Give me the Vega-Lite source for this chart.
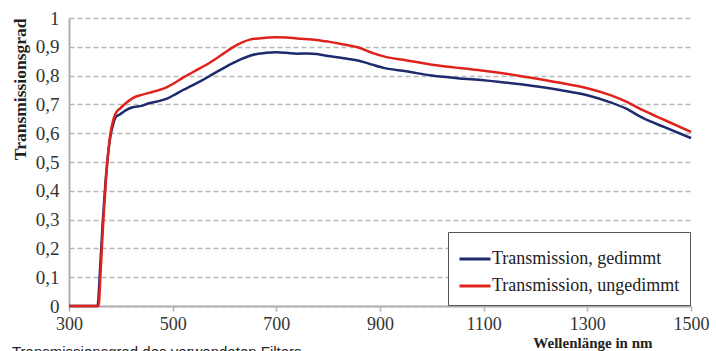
{
  "$schema": "https://vega.github.io/schema/vega-lite/v6.json",
  "autosize": "none",
  "width": 622,
  "height": 288,
  "padding": {"left": 69, "top": 18, "right": 25, "bottom": 45},
  "background": "white",
  "title": {
    "text": "Transmissionsgrad des verwendeten Filters",
    "orient": "bottom",
    "anchor": "start",
    "frame": "group",
    "dx": -57,
    "offset": -5,
    "font": "Liberation Sans",
    "fontSize": 15,
    "fontWeight": "normal",
    "color": "#222"
  },
  "config": {
    "view": {"stroke": null},
    "axis": {
      "labelFont": "Liberation Serif",
      "titleFont": "Liberation Serif",
      "labelColor": "#333",
      "titleColor": "#222",
      "domainColor": "#b0b0b0",
      "domainWidth": 2,
      "tickColor": "#b0b0b0"
    }
  },
  "data": {
    "values": [
      {"wl": 300, "t": 0, "s": "Transmission, gedimmt"},
      {"wl": 355, "t": 0, "s": "Transmission, gedimmt"},
      {"wl": 360, "t": 0.13, "s": "Transmission, gedimmt"},
      {"wl": 365, "t": 0.29, "s": "Transmission, gedimmt"},
      {"wl": 370, "t": 0.42, "s": "Transmission, gedimmt"},
      {"wl": 375, "t": 0.52, "s": "Transmission, gedimmt"},
      {"wl": 380, "t": 0.59, "s": "Transmission, gedimmt"},
      {"wl": 385, "t": 0.63, "s": "Transmission, gedimmt"},
      {"wl": 390, "t": 0.655, "s": "Transmission, gedimmt"},
      {"wl": 398, "t": 0.665, "s": "Transmission, gedimmt"},
      {"wl": 410, "t": 0.68, "s": "Transmission, gedimmt"},
      {"wl": 423, "t": 0.69, "s": "Transmission, gedimmt"},
      {"wl": 440, "t": 0.695, "s": "Transmission, gedimmt"},
      {"wl": 456, "t": 0.705, "s": "Transmission, gedimmt"},
      {"wl": 470, "t": 0.71, "s": "Transmission, gedimmt"},
      {"wl": 489, "t": 0.72, "s": "Transmission, gedimmt"},
      {"wl": 505, "t": 0.735, "s": "Transmission, gedimmt"},
      {"wl": 520, "t": 0.75, "s": "Transmission, gedimmt"},
      {"wl": 537, "t": 0.765, "s": "Transmission, gedimmt"},
      {"wl": 553, "t": 0.78, "s": "Transmission, gedimmt"},
      {"wl": 570, "t": 0.797, "s": "Transmission, gedimmt"},
      {"wl": 585, "t": 0.813, "s": "Transmission, gedimmt"},
      {"wl": 600, "t": 0.828, "s": "Transmission, gedimmt"},
      {"wl": 616, "t": 0.843, "s": "Transmission, gedimmt"},
      {"wl": 632, "t": 0.857, "s": "Transmission, gedimmt"},
      {"wl": 649, "t": 0.869, "s": "Transmission, gedimmt"},
      {"wl": 665, "t": 0.876, "s": "Transmission, gedimmt"},
      {"wl": 680, "t": 0.879, "s": "Transmission, gedimmt"},
      {"wl": 700, "t": 0.881, "s": "Transmission, gedimmt"},
      {"wl": 720, "t": 0.879, "s": "Transmission, gedimmt"},
      {"wl": 740, "t": 0.876, "s": "Transmission, gedimmt"},
      {"wl": 760, "t": 0.877, "s": "Transmission, gedimmt"},
      {"wl": 778, "t": 0.875, "s": "Transmission, gedimmt"},
      {"wl": 800, "t": 0.868, "s": "Transmission, gedimmt"},
      {"wl": 830, "t": 0.86, "s": "Transmission, gedimmt"},
      {"wl": 861, "t": 0.851, "s": "Transmission, gedimmt"},
      {"wl": 885, "t": 0.838, "s": "Transmission, gedimmt"},
      {"wl": 909, "t": 0.826, "s": "Transmission, gedimmt"},
      {"wl": 950, "t": 0.815, "s": "Transmission, gedimmt"},
      {"wl": 1000, "t": 0.8, "s": "Transmission, gedimmt"},
      {"wl": 1054, "t": 0.79, "s": "Transmission, gedimmt"},
      {"wl": 1100, "t": 0.784, "s": "Transmission, gedimmt"},
      {"wl": 1150, "t": 0.774, "s": "Transmission, gedimmt"},
      {"wl": 1200, "t": 0.763, "s": "Transmission, gedimmt"},
      {"wl": 1247, "t": 0.75, "s": "Transmission, gedimmt"},
      {"wl": 1300, "t": 0.732, "s": "Transmission, gedimmt"},
      {"wl": 1343, "t": 0.708, "s": "Transmission, gedimmt"},
      {"wl": 1375, "t": 0.685, "s": "Transmission, gedimmt"},
      {"wl": 1407, "t": 0.653, "s": "Transmission, gedimmt"},
      {"wl": 1450, "t": 0.62, "s": "Transmission, gedimmt"},
      {"wl": 1500, "t": 0.583, "s": "Transmission, gedimmt"},
      {"wl": 300, "t": 0, "s": "Transmission, ungedimmt"},
      {"wl": 357, "t": 0, "s": "Transmission, ungedimmt"},
      {"wl": 361, "t": 0.12, "s": "Transmission, ungedimmt"},
      {"wl": 366, "t": 0.29, "s": "Transmission, ungedimmt"},
      {"wl": 371, "t": 0.43, "s": "Transmission, ungedimmt"},
      {"wl": 376, "t": 0.54, "s": "Transmission, ungedimmt"},
      {"wl": 381, "t": 0.61, "s": "Transmission, ungedimmt"},
      {"wl": 386, "t": 0.65, "s": "Transmission, ungedimmt"},
      {"wl": 392, "t": 0.675, "s": "Transmission, ungedimmt"},
      {"wl": 398, "t": 0.685, "s": "Transmission, ungedimmt"},
      {"wl": 410, "t": 0.705, "s": "Transmission, ungedimmt"},
      {"wl": 423, "t": 0.722, "s": "Transmission, ungedimmt"},
      {"wl": 440, "t": 0.733, "s": "Transmission, ungedimmt"},
      {"wl": 456, "t": 0.741, "s": "Transmission, ungedimmt"},
      {"wl": 470, "t": 0.748, "s": "Transmission, ungedimmt"},
      {"wl": 489, "t": 0.76, "s": "Transmission, ungedimmt"},
      {"wl": 505, "t": 0.776, "s": "Transmission, ungedimmt"},
      {"wl": 520, "t": 0.793, "s": "Transmission, ungedimmt"},
      {"wl": 537, "t": 0.81, "s": "Transmission, ungedimmt"},
      {"wl": 553, "t": 0.826, "s": "Transmission, ungedimmt"},
      {"wl": 570, "t": 0.843, "s": "Transmission, ungedimmt"},
      {"wl": 585, "t": 0.86, "s": "Transmission, ungedimmt"},
      {"wl": 600, "t": 0.879, "s": "Transmission, ungedimmt"},
      {"wl": 616, "t": 0.898, "s": "Transmission, ungedimmt"},
      {"wl": 632, "t": 0.914, "s": "Transmission, ungedimmt"},
      {"wl": 649, "t": 0.925, "s": "Transmission, ungedimmt"},
      {"wl": 670, "t": 0.93, "s": "Transmission, ungedimmt"},
      {"wl": 700, "t": 0.933, "s": "Transmission, ungedimmt"},
      {"wl": 720, "t": 0.932, "s": "Transmission, ungedimmt"},
      {"wl": 740, "t": 0.929, "s": "Transmission, ungedimmt"},
      {"wl": 778, "t": 0.924, "s": "Transmission, ungedimmt"},
      {"wl": 800, "t": 0.918, "s": "Transmission, ungedimmt"},
      {"wl": 830, "t": 0.908, "s": "Transmission, ungedimmt"},
      {"wl": 861, "t": 0.896, "s": "Transmission, ungedimmt"},
      {"wl": 885, "t": 0.879, "s": "Transmission, ungedimmt"},
      {"wl": 909, "t": 0.866, "s": "Transmission, ungedimmt"},
      {"wl": 950, "t": 0.853, "s": "Transmission, ungedimmt"},
      {"wl": 1000, "t": 0.838, "s": "Transmission, ungedimmt"},
      {"wl": 1054, "t": 0.826, "s": "Transmission, ungedimmt"},
      {"wl": 1100, "t": 0.817, "s": "Transmission, ungedimmt"},
      {"wl": 1150, "t": 0.805, "s": "Transmission, ungedimmt"},
      {"wl": 1200, "t": 0.79, "s": "Transmission, ungedimmt"},
      {"wl": 1247, "t": 0.775, "s": "Transmission, ungedimmt"},
      {"wl": 1300, "t": 0.756, "s": "Transmission, ungedimmt"},
      {"wl": 1343, "t": 0.733, "s": "Transmission, ungedimmt"},
      {"wl": 1375, "t": 0.71, "s": "Transmission, ungedimmt"},
      {"wl": 1407, "t": 0.68, "s": "Transmission, ungedimmt"},
      {"wl": 1450, "t": 0.645, "s": "Transmission, ungedimmt"},
      {"wl": 1500, "t": 0.604, "s": "Transmission, ungedimmt"}
    ]
  },
  "mark": {"type": "line", "strokeWidth": 2.5, "interpolate": "monotone"},
  "encoding": {
    "x": {
      "field": "wl",
      "type": "quantitative",
      "scale": {"domain": [300, 1500], "nice": false},
      "axis": {
        "values": [300, 500, 700, 900, 1100, 1300, 1500],
        "format": "d",
        "grid": false,
        "ticks": true,
        "tickSize": 5,
        "tickWidth": 1.5,
        "labelFontSize": 18,
        "labelPadding": 4,
        "labelFlush": false,
        "title": "Wellenlänge in nm",
        "titleFontSize": 15,
        "titleFontWeight": "bold",
        "titleAlign": "right",
        "titleAnchor": "end",
        "titleX": 583,
        "titleY": 29,
        "titleBaseline": "top"
      }
    },
    "y": {
      "field": "t",
      "type": "quantitative",
      "scale": {"domain": [0, 1], "nice": false},
      "axis": {
        "values": [0, 0.1, 0.2, 0.3, 0.4, 0.5, 0.6, 0.7, 0.8, 0.9, 1],
        "labelExpr": "replace(format(datum.value, '~g'), '.', ',')",
        "grid": true,
        "gridDash": [5, 3],
        "gridColor": "#b8b8b8",
        "gridWidth": 1.5,
        "ticks": false,
        "labelFontSize": 19,
        "labelPadding": 10,
        "title": "Transmissionsgrad",
        "titleFontSize": 17.5,
        "titleFontWeight": "bold",
        "titleAnchor": "end",
        "titlePadding": 6
      }
    },
    "color": {
      "field": "s",
      "type": "nominal",
      "scale": {
        "domain": ["Transmission, gedimmt", "Transmission, ungedimmt"],
        "range": ["#1d2a6e", "#e0221c"]
      },
      "legend": {
        "title": null,
        "orient": "bottom-right",
        "offset": 1,
        "symbolType": "stroke",
        "symbolSize": 961,
        "symbolStrokeWidth": 3,
        "labelOffset": 0,
        "labelFont": "Liberation Serif",
        "labelFontSize": 18,
        "labelColor": "#222",
        "labelLimit": 300,
        "labelExpr": "datum.label + '\u00a0\u00a0\u00a0\u00a0\u00a0\u00a0'",
        "rowPadding": 1,
        "padding": 10,
        "fillColor": "white",
        "strokeColor": "#555"
      }
    }
  }
}
